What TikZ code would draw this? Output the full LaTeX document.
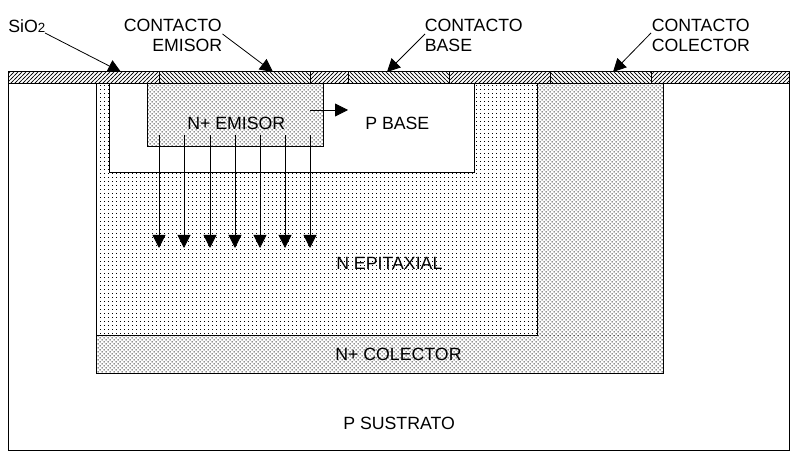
\documentclass[tikz,border=0pt]{standalone}
\usepackage{fontspec}
\setmainfont{Liberation Sans}
\usetikzlibrary{patterns,arrows.meta}
\pgfdeclarepatternformonly{sparsedots}{\pgfqpoint{-1pt}{-1pt}}{\pgfqpoint{1pt}{1pt}}{\pgfqpoint{3pt}{3pt}}{%
  \pgfpathrectangle{\pgfqpoint{-.375pt}{-.375pt}}{\pgfqpoint{.75pt}{.75pt}}\pgfusepath{fill}}
\pgfdeclarepatternformonly{densedots}{\pgfqpoint{-1pt}{-1pt}}{\pgfqpoint{3pt}{3pt}}{\pgfqpoint{3pt}{3pt}}{%
  \pgfpathrectangle{\pgfqpoint{-.375pt}{-.375pt}}{\pgfqpoint{.75pt}{.75pt}}
  \pgfpathrectangle{\pgfqpoint{1.125pt}{1.125pt}}{\pgfqpoint{.75pt}{.75pt}}\pgfusepath{fill}}
\pgfdeclarepatternformonly{fwdhatch}{\pgfqpoint{-1pt}{-1pt}}{\pgfqpoint{4pt}{4pt}}{\pgfqpoint{3pt}{3pt}}{%
  \pgfsetlinewidth{.5pt}\pgfpathmoveto{\pgfqpoint{-1pt}{-1pt}}\pgfpathlineto{\pgfqpoint{4pt}{4pt}}\pgfusepath{stroke}}
\pgfdeclarepatternformonly{backhatch}{\pgfqpoint{-1pt}{-1pt}}{\pgfqpoint{4pt}{4pt}}{\pgfqpoint{3pt}{3pt}}{%
  \pgfsetlinewidth{.5pt}\pgfpathmoveto{\pgfqpoint{-1pt}{4pt}}\pgfpathlineto{\pgfqpoint{4pt}{-1pt}}\pgfusepath{stroke}}
\tikzset{
  region/.style={draw=black,line width=.75pt},
  lbl/.style={font=\fontsize{13.3}{15}\selectfont,inner sep=0pt,text=black},
  ptr/.style={draw=black,line width=.6pt,-{Triangle[length=9.75pt,width=9.75pt]}},
}
\begin{document}
\begin{tikzpicture}[x=.75pt,y=-.75pt]
\useasboundingbox (0,0) rectangle (796,466);
\fill[white] (0,0) rectangle (796,466);
% substrate
\draw[region] (8,84) rectangle (789,450);
% collector + sinker
\path[pattern=densedots] (96.5,336) rectangle (663,374);
\path[pattern=densedots] (537,84) rectangle (663,336);
\path[pattern=sparsedots] (96.5,84) rectangle (537,336);
\draw[region] (96.5,84) -- (96.5,374) -- (663,374) -- (663,84);
\draw[region] (96.5,336) -- (537,336) -- (537,84);
% base
\draw[region,fill=white] (109,84) -- (109,173) -- (474,173) -- (474,84);
% emitter
\path[pattern=densedots] (147.5,84) rectangle (323.5,147);
\draw[region] (147.5,84) -- (147.5,147) -- (323.5,147) -- (323.5,84);
% oxide
\path[pattern=fwdhatch] (8,72) rectangle (789,84);
\fill[white] (159,72) rectangle (310.5,84) (348,72) rectangle (449.5,84) (550.5,72) rectangle (651,84);
\path[pattern=backhatch] (159,72) rectangle (310.5,84);
\path[pattern=backhatch] (348,72) rectangle (449.5,84);
\path[pattern=backhatch] (550.5,72) rectangle (651,84);
\draw[region] (8,72) rectangle (789,84);
\foreach \x in {159,310.5,348,449.5,550.5,651} \draw[region] (\x,72) -- (\x,84);
% named pins
\coordinate (oxpin) at (121,72);
\coordinate (cepin) at (273,72);
\coordinate (cbpin) at (387,72);
\coordinate (ccpin) at (613,72);
% labels
\node[lbl,anchor=base west] (sio) at (8,33) {SiO{\fontsize{10}{11}\selectfont 2}};
\node[lbl,anchor=base west] (ce1) at (123.5,32) {CONTACTO};
\node[lbl,anchor=base west] (ce2) at (152,52) {EMISOR};
\node[lbl,anchor=base west] (cb1) at (424.5,32) {CONTACTO};
\node[lbl,anchor=base west] (cb2) at (424.5,52) {BASE};
\node[lbl,anchor=base west] (cc1) at (651.5,32) {CONTACTO};
\node[lbl,anchor=base west] (cc2) at (651.5,52) {COLECTOR};
\node[lbl,anchor=base west] (em) at (187,129.5) {N+ EMISOR};
\node[lbl,anchor=base west] (pb) at (365,129.5) {P BASE};
\node[lbl,anchor=base west] (ne) at (336,270) {N EPITAXIAL};
\node[lbl,anchor=base west] (nc) at (335,360.5) {N+ COLECTOR};
\node[lbl,anchor=base west] (ps) at (343,430) {P SUSTRATO};
% pointers
\coordinate (a1) at (45,33);
\coordinate (a2) at (222.5,34);
\coordinate (a3) at (425,34);
\coordinate (a4) at (651,33);
\draw[ptr] (a1) -- (oxpin);
\draw[ptr] (a2) -- (cepin);
\draw[ptr] (a3) -- (cbpin);
\draw[ptr] (a4) -- (ccpin);
\coordinate (hs) at (310,110);
\coordinate (he) at (348,110);
\draw[ptr] (hs) -- (he);
\foreach \x in {159,184,210,235,260,285,310}{
  \coordinate (vs\x) at (\x,135);
  \coordinate (ve\x) at (\x,248);
  \draw[ptr] (vs\x) -- (ve\x);
}
\end{tikzpicture}
\end{document}
